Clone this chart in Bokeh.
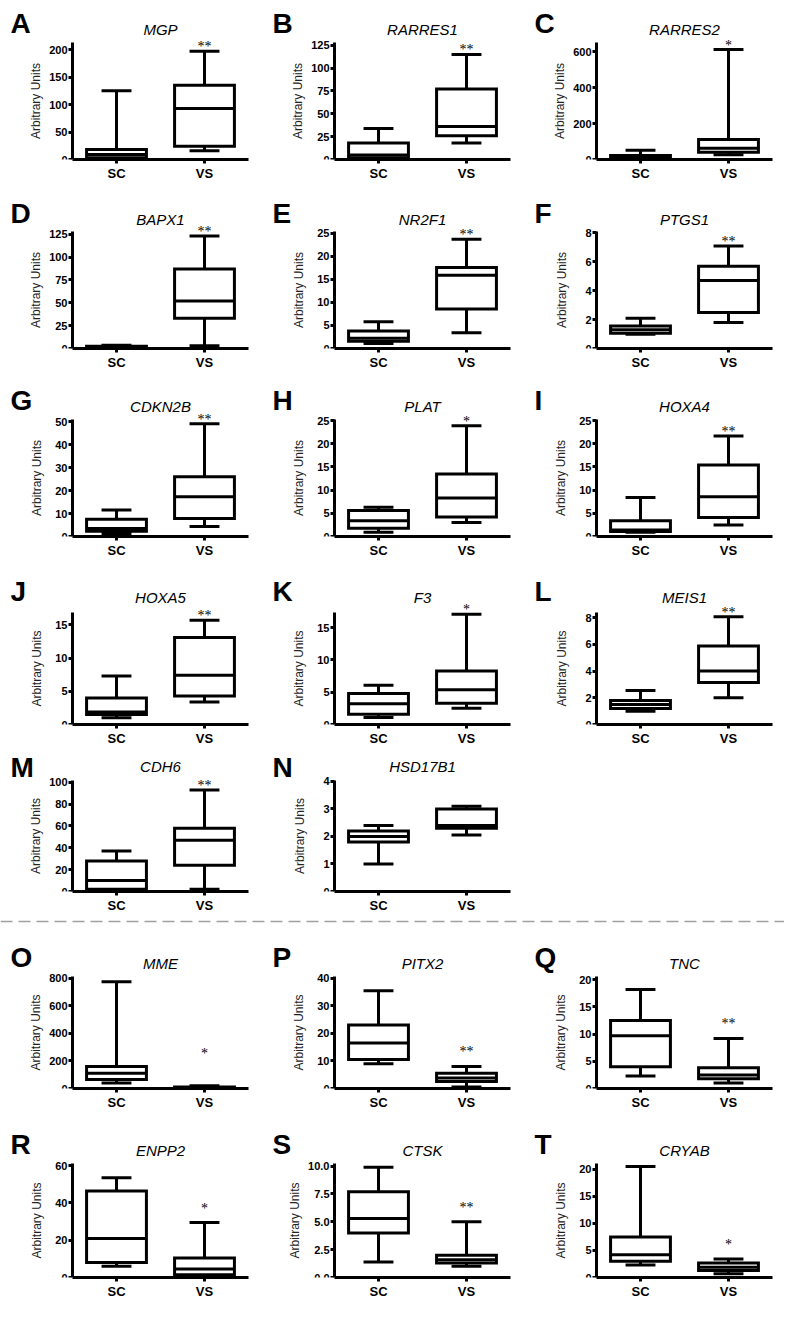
from bokeh.plotting import figure
from bokeh.models import ColumnDataSource, Range1d, FixedTicker, Label, LabelSet, Span
from bokeh.transform import dodge
from bokeh.layouts import column, row
from bokeh.embed import file_html
from bokeh.resources import INLINE

# ---------------- data ----------------
groups = ["SC", "VS"]
letters = list("ABCDEFGHIJKLMNOPQRST")
genes = ["MGP", "RARRES1", "RARRES2", "BAPX1", "NR2F1", "PTGS1", "CDKN2B", "PLAT",
         "HOXA4", "HOXA5", "F3", "MEIS1", "CDH6", "HSD17B1", "MME", "PITX2", "TNC",
         "ENPP2", "CTSK", "CRYAB"]
# five-number summaries: [min, q1, median, q3, max]
sc_stats = [
    [1, 3, 9, 18, 125],
    [1, 2, 5, 18, 34],
    [2, 5, 12, 22, 52],
    [0.3, 0.8, 1.5, 2.5, 3.5],
    [1.1, 1.6, 2.2, 3.8, 5.8],
    [0.98, 1.05, 1.3, 1.55, 2.1],
    [1.3, 2.3, 3.5, 7.5, 11.5],
    [0.9, 1.8, 3.4, 5.6, 6.3],
    [0.9, 1.1, 1.4, 3.4, 8.4],
    [1.0, 1.5, 1.9, 4.0, 7.3],
    [1.1, 1.6, 3.2, 4.8, 6.1],
    [1.0, 1.2, 1.5, 1.8, 2.55],
    [1, 2, 10, 28, 37],
    [1.0, 1.8, 2.0, 2.2, 2.4],
    [40, 65, 110, 160, 775],
    [9, 10.5, 16.5, 23, 35.5],
    [2.3, 4, 9.7, 12.5, 18.2],
    [6, 8, 21, 46.5, 53.5],
    [1.4, 4.0, 5.3, 7.7, 9.9],
    [2.3, 3.0, 4.2, 7.5, 20.5],
]
vs_stats = [
    [16, 24, 93, 135, 197],
    [18, 26, 36, 77, 115],
    [26, 40, 63, 111, 613],
    [3, 33, 52, 87, 123],
    [3.4, 8.6, 15.9, 17.6, 23.7],
    [1.8, 2.5, 4.7, 5.7, 7.1],
    [4.3, 7.8, 17.3, 26, 49],
    [3.0, 4.2, 8.3, 13.5, 23.9],
    [2.5, 4.1, 8.6, 15.4, 21.7],
    [3.4, 4.3, 7.4, 13.1, 15.7],
    [2.5, 3.3, 5.4, 8.3, 17.1],
    [2.0, 3.15, 4.0, 5.87, 8.07],
    [2, 24, 47, 58, 93],
    [2.05, 2.3, 2.4, 3.0, 3.1],
    [2, 4, 6, 10, 20],
    [0.5, 2.5, 3.8, 5.5, 8],
    [1.0, 1.8, 2.5, 3.8, 9.2],
    [0.5, 1.5, 4.5, 10.5, 29.5],
    [1.0, 1.3, 1.6, 2.0, 5.0],
    [0.7, 1.3, 1.9, 2.7, 3.4],
]
stars = ["**", "**", "*", "**", "**", "**", "**", "*", "**", "**", "*", "**",
         "**", "", "*", "**", "**", "*", "**", "*"]
y_ticks = [
    [0, 50, 100, 150, 200], [0, 25, 50, 75, 100, 125], [0, 200, 400, 600],
    [0, 25, 50, 75, 100, 125], [0, 5, 10, 15, 20, 25], [0, 2, 4, 6, 8],
    [0, 10, 20, 30, 40, 50], [0, 5, 10, 15, 20, 25], [0, 5, 10, 15, 20, 25],
    [0, 5, 10, 15], [0, 5, 10, 15], [0, 2, 4, 6, 8],
    [0, 20, 40, 60, 80, 100], [0, 1, 2, 3, 4],
    [0, 200, 400, 600, 800], [0, 10, 20, 30, 40], [0, 5, 10, 15, 20],
    [0, 20, 40, 60], [0, 2.5, 5, 7.5, 10], [0, 5, 10, 15, 20],
]
y_tick_labels = [
    ["0", "50", "100", "150", "200"], ["0", "25", "50", "75", "100", "125"], ["0", "200", "400", "600"],
    ["0", "25", "50", "75", "100", "125"], ["0", "5", "10", "15", "20", "25"], ["0", "2", "4", "6", "8"],
    ["0", "10", "20", "30", "40", "50"], ["0", "5", "10", "15", "20", "25"], ["0", "5", "10", "15", "20", "25"],
    ["0", "5", "10", "15"], ["0", "5", "10", "15"], ["0", "2", "4", "6", "8"],
    ["0", "20", "40", "60", "80", "100"], ["0", "1", "2", "3", "4"],
    ["0", "200", "400", "600", "800"], ["0", "10", "20", "30", "40"], ["0", "5", "10", "15", "20"],
    ["0", "20", "40", "60"], ["0.0", "2.5", "5.0", "7.5", "10.0"], ["0", "5", "10", "15", "20"],
]
# top of each y axis (data units)
y_max = [212, 127.5, 650, 128, 25.4, 8.1, 51, 25.3, 25.3, 16.9, 17.4, 8.4,
         102, 4.05, 810, 40.5, 20.5, 61, 10.2, 21]

# ---------------- layout / style ----------------
FONT = "Liberation Sans"
FW = 176                     # pixel length of the x axis
PPU = FW / len(groups)       # pixels per group
COL_W = [270, 262, 252]
AX = [72, 64, 64]            # x pixel of the y axis inside each column
# (space above axis top, axis height, space below) per row
ROWS = [(43, 118, 22), (48, 117, 24), (47, 118, 23), (53, 115, 20), (32, 113, 22),
        (50, 113, 22), (52, 115, 22)]
ROW_PANELS = [[0, 1, 2], [3, 4, 5], [6, 7, 8], [9, 10, 11], [12, 13], [14, 15, 16], [17, 18, 19]]
STAR_OFF = [0, 0, 0, 0, 0, 10, 10]
STAR_OFF_EXTRA = {14: 18}    # MME star floats higher
BOX_W = 0.68
CAP_W = 0.34


def make_panel(i, c, top, fh, bottom, star_off):
    width = COL_W[c]
    ax0 = AX[c]
    p = figure(width=width, height=top + fh + bottom,
               x_range=Range1d(-ax0 / PPU, (width - ax0) / PPU),
               y_range=Range1d(0, y_max[i] * (fh + top) / fh),
               output_backend="svg", toolbar_location=None, tools="",
               min_border_left=0, min_border_right=0, min_border_top=0,
               min_border_bottom=bottom,
               outline_line_color=None, background_fill_color="white",
               border_fill_color="white")
    p.xgrid.visible = False
    p.ygrid.visible = False
    sc, vs = sc_stats[i], vs_stats[i]
    xs = [k + 0.5 for k in range(len(groups))]
    src = ColumnDataSource(dict(x=xs, lo=[sc[0], vs[0]], q1=[sc[1], vs[1]],
                                med=[sc[2], vs[2]], q3=[sc[3], vs[3]], hi=[sc[4], vs[4]]))
    kw = dict(source=src, line_color="black", line_width=3)
    p.segment(x0="x", y0="q3", x1="x", y1="hi", **kw)
    p.segment(x0="x", y0="q1", x1="x", y1="lo", **kw)
    for col in ("hi", "lo"):
        p.segment(x0=dodge("x", -CAP_W / 2), y0=col, x1=dodge("x", CAP_W / 2), y1=col, **kw)
    p.vbar(x="x", width=BOX_W, bottom="q1", top="q3", fill_color="white",
           line_join="miter", **kw)
    p.segment(x0=dodge("x", -BOX_W / 2), y0="med", x1=dodge("x", BOX_W / 2), y1="med", **kw)

    if stars[i]:
        ssrc = ColumnDataSource(dict(x=[xs[1]], y=[vs[4]], t=[stars[i]]))
        p.add_layout(LabelSet(x="x", y="y", text="t", source=ssrc, text_align="center",
                              text_baseline="alphabetic",
                              y_offset=star_off + STAR_OFF_EXTRA.get(i, 0),
                              text_font=FONT, text_font_size="14px", text_color="black"))

    # axes
    for ax in (p.xaxis[0], p.yaxis[0]):
        ax.axis_line_width = 3
        ax.axis_line_color = "black"
        ax.major_tick_line_width = 3
        ax.major_tick_line_color = "black"
        ax.major_tick_out = 4
        ax.major_tick_in = 0
        ax.minor_tick_line_color = None
        ax.major_label_text_font = FONT
        ax.major_label_text_font_style = "bold"
        ax.major_label_text_color = "black"
    p.xaxis.ticker = FixedTicker(ticks=xs)
    p.xaxis.major_label_overrides = {x: g for x, g in zip(xs, groups)}
    p.xaxis.bounds = (0, len(groups))
    p.xaxis.major_label_text_font_size = "13px"
    p.xaxis.major_label_standoff = 2
    p.yaxis.fixed_location = 0
    p.yaxis.bounds = (0, y_max[i])
    p.yaxis.major_label_text_font_size = "11px"
    p.yaxis.major_label_standoff = 1
    p.yaxis.ticker = FixedTicker(ticks=y_ticks[i])
    p.yaxis.major_label_overrides = {t: s for t, s in zip(y_ticks[i], y_tick_labels[i])}
    p.yaxis.axis_label = "Arbitrary Units"
    p.yaxis.axis_label_text_font = FONT
    p.yaxis.axis_label_text_font_style = "normal"
    p.yaxis.axis_label_text_font_size = "12px"
    p.yaxis.axis_label_text_color = "#222222"
    nch = max(len(s) for s in y_tick_labels[i])
    p.yaxis.axis_label_standoff = 3 + max(0, 3 - nch) * 5

    # panel letter (baseline ~18px above axis top) and gene name
    p.add_layout(Label(x=ax0 - 62, y=fh + min(18, top - 21), x_units="screen", y_units="screen",
                       text=letters[i], text_font=FONT, text_font_size="28px",
                       text_font_style="bold", text_baseline="alphabetic", text_color="black"))
    p.add_layout(Label(x=ax0 + FW / 2, y=fh + 12, x_units="screen", y_units="screen",
                       text=genes[i], text_font=FONT, text_font_size="15px",
                       text_font_style="italic", text_align="center",
                       text_baseline="middle", text_color="black"))
    return p


rows = []
for r, (top, fh, bottom) in enumerate(ROWS):
    figs = [make_panel(i, c, top, fh, bottom, STAR_OFF[r])
            for c, i in enumerate(ROW_PANELS[r])]
    rows.append(row(*figs))
    if r == 4:
        sep = figure(width=sum(COL_W), height=12, x_range=Range1d(0, 1), y_range=Range1d(0, 1),
                     x_axis_type=None, y_axis_type=None, output_backend="svg",
                     toolbar_location=None, tools="", min_border=0, outline_line_color=None)
        sep.xgrid.visible = False
        sep.ygrid.visible = False
        sep.add_layout(Span(location=0.5, dimension="width", line_color="#a0a0a0",
                            line_dash="12 6", line_width=1.5))
        rows.append(sep)

layout = column(*rows)
open("out.html", "w").write(file_html(layout, INLINE))
